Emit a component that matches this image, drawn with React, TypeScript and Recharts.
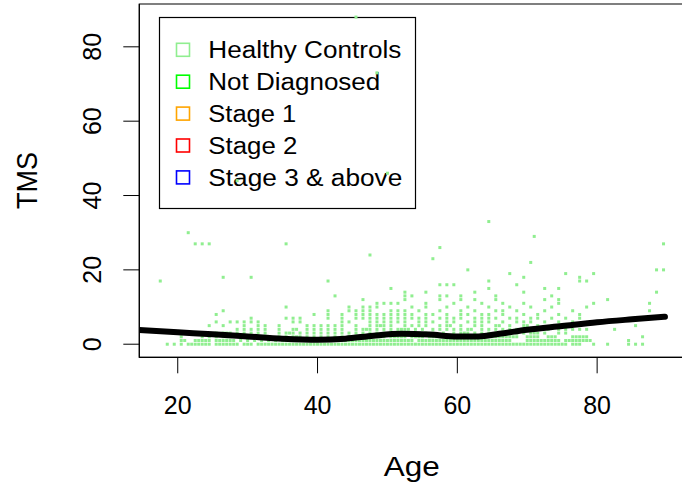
import React from 'react';
import {
  ComposedChart,
  Scatter,
  XAxis,
  YAxis,
  ReferenceArea
} from 'recharts';

const FONT = "'Liberation Sans', Arial, Helvetica, sans-serif";

// x / y ranges of the plot box (R adds 4% on each side)
const ageDomain = [14.5, 93];
const tmsDomain = [-3.52, 91.52];
const ageTicks = [20, 40, 60, 80];
const tmsTicks = [0, 20, 40, 60, 80];

// Healthy controls: for each TMS level, the ages where a point sits
const tmsLevels = [0, 1, 2, 3, 4, 5, 6, 7, 8, 9, 10, 11, 12, 13, 14, 15, 16, 17, 18, 19, 20, 22, 23, 24, 26, 27, 29, 30, 33, 44, 46, 73, 88];
const agesAtLevel: number[][] = [
  [18.5, 19.5, 20.5, 21.5, 22, 22.5, 23, 23.5, 24, 24.5, 25.5, 26, 26.5, 27, 27.5, 28, 28.5, 29.5, 30, 30.5, 31.5, 32, 32.5, 33, 33.5, 34, 34.5, 35, 35.5, 36, 36.5, 37, 37.5, 38, 38.5, 39, 39.5, 40, 40.5, 41, 41.5, 42, 42.5, 43, 43.5, 44, 44.5, 45, 45.5, 46, 46.5, 47, 47.5, 48, 48.5, 49, 49.5, 50, 50.5, 51, 51.5, 52, 52.5, 53, 53.5, 54, 54.5, 55, 55.5, 56, 56.5, 57, 57.5, 58, 58.5, 59, 59.5, 60, 60.5, 61, 61.5, 62, 62.5, 63, 63.5, 64, 64.5, 65, 65.5, 66, 66.5, 67, 67.5, 68, 68.5, 69, 69.5, 70, 70.5, 71, 71.5, 72, 72.5, 73, 73.5, 74, 74.5, 75, 75.5, 76.5, 77, 77.5, 79.5, 81.5, 84.5, 85.5, 86.5],
  [20.5, 21, 22.5, 23, 23.5, 24, 24.5, 25.5, 26, 26.5, 27, 27.5, 28, 29, 30, 31, 32, 33, 34, 35, 35.5, 36, 36.5, 37, 37.5, 38, 38.5, 39, 39.5, 40, 40.5, 41, 41.5, 42, 42.5, 43, 43.5, 44, 44.5, 45, 45.5, 46, 46.5, 47, 47.5, 48, 48.5, 49, 49.5, 50, 50.5, 51, 51.5, 52, 52.5, 53, 53.5, 54.5, 55, 55.5, 56, 56.5, 57, 57.5, 58, 58.5, 59, 59.5, 60, 60.5, 61, 61.5, 62, 62.5, 63, 63.5, 64, 64.5, 65, 65.5, 66, 66.5, 67, 67.5, 70, 70.5, 71, 71.5, 72, 72.5, 73, 73.5, 74, 74.5, 75.5, 76, 76.5, 77, 77.5, 78, 78.5, 79, 84.5],
  [20.5, 23.5, 24.5, 25.5, 26.5, 27, 27.5, 29.5, 30.5, 31.5, 32.5, 34.5, 35.5, 36.5, 37, 37.5, 38.5, 39.5, 40.5, 41.5, 42.5, 43.5, 44.5, 45.5, 46.5, 47, 47.5, 48.5, 49, 49.5, 50.5, 51, 51.5, 52, 52.5, 53.5, 54, 54.5, 55, 56, 56.5, 57, 57.5, 58, 59, 59.5, 60, 60.5, 61, 62, 62.5, 63, 63.5, 64, 65, 65.5, 66, 66.5, 67, 67.5, 68, 68.5, 70, 70.5, 71, 71.5, 73, 73.5, 74, 76.5, 77, 77.5, 78, 78.5, 86.5],
  [25.5, 26.5, 27, 27.5, 28.5, 29.5, 30.5, 31.5, 32.5, 34.5, 35.5, 36, 36.5, 37.5, 38.5, 39.5, 40.5, 41.5, 42.5, 43.5, 44.5, 45.5, 46.5, 47.5, 48.5, 49.5, 50.5, 51.5, 52, 52.5, 53, 53.5, 54.5, 55.5, 56.5, 58, 59.5, 60.5, 61, 61.5, 62.5, 63.5, 64.5, 65.5, 66.5, 67.5, 68.5, 69.5, 70.5, 71, 71.5, 72.5, 74.5, 75.5],
  [28.5, 29.5, 30.5, 31.5, 32.5, 34.5, 36.5, 37, 38.5, 39.5, 40.5, 41.5, 42.5, 43.5, 45.5, 46.5, 47, 47.5, 48.5, 49.5, 50.5, 51.5, 52, 52.5, 53, 54, 55, 56.5, 57.5, 58.5, 59.5, 60.5, 61.5, 62, 63.5, 64.5, 65.5, 66.5, 67.5, 68.5, 69.5, 70.5, 72, 73, 74.5, 75.5, 76.5, 77.5, 78.5, 82.5],
  [24.5, 26.5, 29.5, 31.5, 32.5, 34.5, 38.5, 39.5, 40.5, 41.5, 42.5, 43.5, 45.5, 47.5, 48.5, 49, 49.5, 50.5, 52.5, 53.5, 54.5, 55.5, 57.5, 58.5, 59, 60.5, 62.5, 63.5, 65.5, 66, 67.5, 69.5, 70, 71.5, 73.5, 75.5, 76, 77, 85.5],
  [25.5, 27.5, 28.5, 29.5, 30.5, 31.5, 36.5, 37.5, 43.5, 44.5, 47.5, 48.5, 49.5, 50.5, 51.5, 52.5, 54.5, 55.5, 56.5, 58.5, 59.5, 61.5, 62.5, 63.5, 64.5, 66.5, 68.5, 69.5, 70.5, 72.5, 74.5, 76.5, 79.5],
  [30.5, 35.5, 36.5, 37.5, 41.5, 43.5, 45.5, 46.5, 47.5, 48.5, 49.5, 50.5, 51.5, 52.5, 53.5, 54.5, 55.5, 57.5, 58.5, 59.5, 60.5, 62.5, 63.5, 64.5, 65.5, 67.5, 68.5, 70.5, 71.5, 73.5, 75.5, 77.5],
  [25.5, 39.5, 41.5, 43.5, 45.5, 46.5, 47.5, 48.5, 49.5, 50.5, 51.5, 52.5, 53.5, 55.5, 56.5, 58.5, 60.5, 61.5, 63.5, 64.5, 66.5, 69.5, 71.5, 74.5, 77.5],
  [26.5, 41.5, 44.5, 45.5, 46.5, 47.5, 50.5, 51.5, 52.5, 54.5, 57.5, 60.5, 62.5, 65.5, 66.5, 68.5, 72.5, 76.5, 87.5],
  [35.5, 44.5, 46.5, 47.5, 48.5, 53.5, 55.5, 58.5, 61.5, 64.5, 67.5, 70.5, 73.5, 78.5],
  [48.5, 49.5, 50.5, 51.5, 55.5, 59.5, 63.5, 66.5, 69.5, 74.5, 79.5, 87.5],
  [46.5, 52.5, 57.5, 60.5, 62.5, 65.5, 72.5, 74.5, 81.5],
  [42.5, 52.5, 53.5, 57.5, 58.5, 60.5, 65.5, 73.5],
  [52.5, 55.5, 62.5, 69.5, 88.5],
  [50.5, 64.5, 72.5, 74.5],
  [57.5, 58.5, 59.5, 68.5],
  [17.5, 41.5, 64.5, 77.5, 78.5],
  [26.5, 30.5, 69.5, 77.5],
  [67.5, 75.5, 79.5],
  [61.5, 88.5, 89.5],
  [70.5],
  [56.5],
  [47.5],
  [57.5],
  [22.5, 23.5, 24.5, 35.5, 89.5],
  [71],
  [21.5],
  [64.5],
  [28.5],
  [50],
  [48.5],
  [45.5]
];

// Smoothed trend (thick black curve)
const curveAges = [14.5, 20, 25, 30, 35, 40, 44, 48, 52, 56, 60, 63, 66, 70, 75, 80, 85, 89.7];
const curveTms = [3.8, 3.2, 2.7, 2.1, 1.5, 1.2, 1.5, 2.3, 2.8, 2.6, 2.1, 2.1, 2.8, 3.9, 4.9, 5.9, 6.7, 7.4];

const legendLabels = ['Healthy Controls', 'Not Diagnosed', 'Stage 1', 'Stage 2', 'Stage 3 & above'];
const legendColors = ['#90EE90', '#00FF00', '#FFA500', '#FF0000', '#0000FF'];
const legendWidths = [193, 172, 88, 89, 194];

const points = tmsLevels.flatMap((tms, i) => agesAtLevel[i].map(age => ({ age, tms })));
const curve = curveAges.map((age, i) => ({ age, tms: curveTms[i] }));

// small filled square, like pch=15 with a tiny cex
const PointMark = (props: any) => {
  const { cx, cy } = props;
  if (cx == null || cy == null) return null;
  return <rect x={cx - 1.5} y={cy - 1.5} width={3} height={3} fill="#90EE90" />;
};

const NoMark = () => <g />;

// y tick labels run parallel to the axis (R default las=0)
const YTick = (props: any) => {
  const { x, y, payload } = props;
  return (
    <text
      x={x}
      y={y}
      transform={`rotate(-90 ${x} ${y})`}
      textAnchor="middle"
      fontSize={25}
      fontFamily={FONT}
      fill="#000"
    >
      {payload.value}
    </text>
  );
};

// legend + axis titles sit under the chart svg, so points are drawn over the legend
const Backdrop = () => (
  <svg width={682} height={491} style={{ position: 'absolute', left: 0, top: 0 }}>
    <rect x={159.5} y={17.5} width={256} height={191} fill="#fff" stroke="#000" strokeWidth={1.2} />
    {legendLabels.map((label, i) => {
      const base = 58.3 + i * 31.9;
      return (
        <g key={label}>
          <rect x={176.5} y={base - 15} width={13} height={13} fill="none" stroke={legendColors[i]} strokeWidth={1.6} />
          <text
            x={208.3}
            y={base}
            fontSize={23.5}
            fontFamily={FONT}
            fill="#000"
            textLength={legendWidths[i]}
            lengthAdjust="spacingAndGlyphs"
          >
            {label}
          </text>
        </g>
      );
    })}
    <text
      x={411.7}
      y={476}
      textAnchor="middle"
      fontSize={27}
      fontFamily={FONT}
      fill="#000"
      textLength={56}
      lengthAdjust="spacingAndGlyphs"
    >
      Age
    </text>
    <text
      x={36.7}
      y={180.5}
      transform="rotate(-90 36.7 180.5)"
      textAnchor="middle"
      fontSize={30}
      fontFamily={FONT}
      fill="#000"
      textLength={57}
      lengthAdjust="spacingAndGlyphs"
    >
      TMS
    </text>
  </svg>
);

export default function App() {
  return (
    <div style={{ position: 'fixed', left: 0, top: 0, width: 682, height: 491, overflow: 'hidden', background: '#fff' }}>
      <Backdrop />
      <div style={{ position: 'absolute', left: 0, top: 0 }}>
        <ComposedChart width={700} height={491} margin={{ top: 4, right: 12, bottom: 0, left: 0 }}>
          <XAxis
            type="number"
            dataKey="age"
            domain={ageDomain}
            ticks={ageTicks}
            allowDataOverflow
            height={133.7}
            stroke="#000"
            tickSize={16}
            tickMargin={23}
            tick={{ fontSize: 25, fill: '#000', fontFamily: FONT }}
          />
          <YAxis
            type="number"
            dataKey="tms"
            domain={tmsDomain}
            ticks={tmsTicks}
            allowDataOverflow
            width={139.3}
            stroke="#000"
            tickSize={16}
            tickMargin={22}
            tick={<YTick />}
          />
          <ReferenceArea
            x1={ageDomain[0]}
            x2={ageDomain[1]}
            y1={tmsDomain[0]}
            y2={tmsDomain[1]}
            fill="none"
            stroke="#000"
            strokeWidth={1.2}
            ifOverflow="visible"
          />
          <Scatter data={points} dataKey="tms" shape={<PointMark />} isAnimationActive={false} />
          {/* trend drawn as a scatter line so it stacks above the points */}
          <Scatter
            data={curve}
            dataKey="tms"
            shape={<NoMark />}
            line={{ stroke: '#000', strokeWidth: 6, strokeLinecap: 'round', fill: 'none' }}
            lineType="joint"
            lineJointType="monotoneX"
            isAnimationActive={false}
          />
        </ComposedChart>
      </div>
    </div>
  );
}
